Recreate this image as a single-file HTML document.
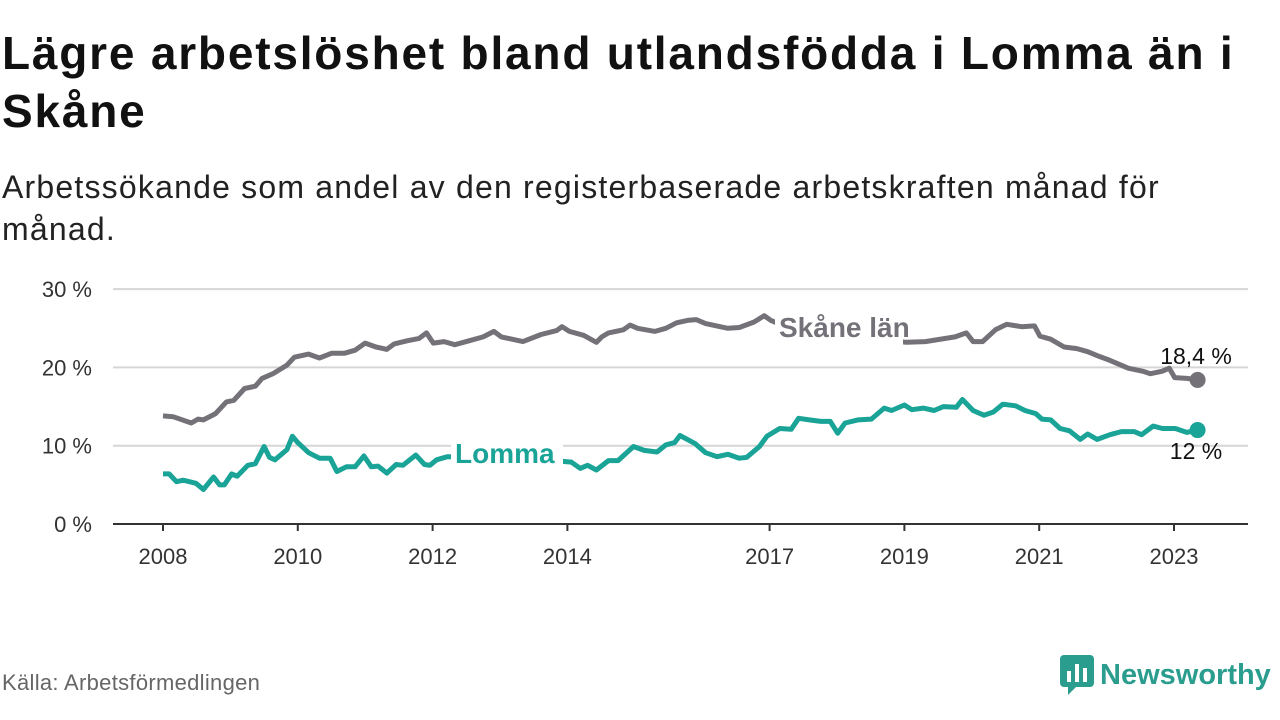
<!DOCTYPE html>
<html><head><meta charset="utf-8"><style>
body{margin:0;width:1280px;height:720px;background:#fff;overflow:hidden;font-family:"Liberation Sans",sans-serif;color:#111}
.t{position:absolute;left:2px;font-weight:bold;font-size:46px;letter-spacing:1.8px;line-height:58px;top:24px;width:1255px}
.s{position:absolute;left:2px;top:166px;font-size:32px;letter-spacing:1.2px;line-height:42px;width:1220px;color:#222}
.src{position:absolute;left:2px;top:670px;font-size:22px;letter-spacing:0.3px;color:#666}
.logo{position:absolute;left:1060px;top:655px;font-size:29px;font-weight:bold;color:#2a9d8f;display:flex;align-items:center}
</style></head><body>
<div class="t">Lägre arbetslöshet bland utlandsfödda i Lomma än i Skåne</div>
<div class="s">Arbetssökande som andel av den registerbaserade arbetskraften månad för månad.</div>
<svg id="chart" style="position:absolute;left:0;top:0" width="1280" height="720"></svg>
<div class="src">Källa: Arbetsförmedlingen</div>
<div class="logo"><svg width="34" height="40" viewBox="0 0 34 40" style="margin-right:6px"><rect x="0" y="0" width="34" height="32" rx="4" fill="#2a9d8f"/><polygon points="8,32 16,32 8,40" fill="#2a9d8f"/><rect x="7" y="16" width="4" height="11" fill="#fff"/><rect x="15" y="9" width="4" height="18" fill="#fff"/><rect x="23" y="13" width="4" height="14" fill="#fff"/></svg>Newsworthy</div>
<script>
const skaneX=[2008.0,2008.15,2008.42,2008.52,2008.6,2008.78,2008.94,2009.05,2009.21,2009.37,2009.47,2009.63,2009.84,2009.95,2010.16,2010.32,2010.5,2010.69,2010.85,2011.0,2011.16,2011.32,2011.43,2011.62,2011.8,2011.91,2012.01,2012.17,2012.33,2012.54,2012.75,2012.91,2013.02,2013.34,2013.61,2013.84,2013.92,2014.03,2014.24,2014.43,2014.51,2014.61,2014.83,2014.93,2015.04,2015.3,2015.46,2015.62,2015.78,2015.91,2016.05,2016.38,2016.55,2016.77,2016.92,2017.02,2017.3,2017.6,2018.0,2018.4,2018.7,2019.03,2019.31,2019.75,2019.92,2020.02,2020.16,2020.35,2020.52,2020.74,2020.93,2021.01,2021.17,2021.37,2021.56,2021.72,2021.89,2022.05,2022.32,2022.54,2022.65,2022.82,2022.93,2023.01,2023.19,2023.35];
const skaneY=[13.8,13.7,12.9,13.4,13.3,14.1,15.6,15.8,17.3,17.6,18.6,19.2,20.3,21.3,21.7,21.2,21.8,21.8,22.2,23.1,22.6,22.3,23.0,23.4,23.7,24.4,23.1,23.3,22.9,23.4,23.9,24.6,23.9,23.3,24.2,24.7,25.2,24.6,24.1,23.2,23.9,24.4,24.8,25.4,25.0,24.6,25.0,25.7,26.0,26.1,25.6,25.0,25.1,25.8,26.6,26.0,25.0,24.8,24.5,24.0,23.5,23.2,23.3,23.9,24.4,23.3,23.3,24.8,25.5,25.2,25.3,24.0,23.6,22.6,22.4,22.0,21.4,20.9,19.9,19.5,19.2,19.5,19.9,18.7,18.6,18.4];
const lommaX=[2008.0,2008.09,2008.2,2008.3,2008.49,2008.6,2008.75,2008.84,2008.91,2009.02,2009.1,2009.26,2009.37,2009.5,2009.58,2009.66,2009.84,2009.92,2010.0,2010.16,2010.32,2010.48,2010.58,2010.72,2010.85,2010.98,2011.09,2011.19,2011.32,2011.46,2011.56,2011.75,2011.88,2011.96,2012.06,2012.22,2012.6,2013.0,2013.5,2013.8,2014.06,2014.19,2014.3,2014.43,2014.61,2014.75,2014.98,2015.14,2015.33,2015.46,2015.59,2015.67,2015.89,2016.05,2016.22,2016.38,2016.55,2016.66,2016.85,2016.96,2017.15,2017.32,2017.43,2017.59,2017.76,2017.9,2018.01,2018.12,2018.31,2018.51,2018.7,2018.81,2019.0,2019.11,2019.28,2019.44,2019.58,2019.77,2019.86,2020.02,2020.18,2020.32,2020.46,2020.65,2020.79,2020.95,2021.04,2021.17,2021.31,2021.45,2021.61,2021.72,2021.86,2022.05,2022.22,2022.41,2022.52,2022.69,2022.83,2023.02,2023.19,2023.35];
const lommaY=[6.4,6.4,5.4,5.6,5.2,4.4,6.0,5.0,5.0,6.4,6.1,7.5,7.7,9.9,8.5,8.2,9.5,11.2,10.4,9.1,8.4,8.4,6.7,7.3,7.3,8.7,7.3,7.4,6.5,7.6,7.5,8.8,7.6,7.5,8.2,8.6,8.6,8.5,8.3,8.1,7.9,7.1,7.5,6.9,8.1,8.1,9.9,9.4,9.2,10.1,10.4,11.3,10.3,9.1,8.6,8.9,8.4,8.5,9.9,11.2,12.2,12.1,13.5,13.3,13.1,13.1,11.6,12.9,13.3,13.4,14.8,14.5,15.2,14.6,14.8,14.5,15.0,14.9,15.9,14.5,13.9,14.3,15.3,15.1,14.5,14.1,13.4,13.3,12.2,11.9,10.8,11.5,10.8,11.4,11.8,11.8,11.4,12.5,12.2,12.2,11.7,12.0];
const yTicks=[0,10,20,30];
const yTickLabels=["0 %","10 %","20 %","30 %"];
const xTicks=[2008,2010,2012,2014,2017,2019,2021,2023];
const xTickLabels=["2008","2010","2012","2014","2017","2019","2021","2023"];
const svg=document.getElementById('chart');
const NS='http://www.w3.org/2000/svg';
const xS=v=>163+(v-2008)*67.4;
const yS=v=>524-v*7.83;
function mk(tag,attrs,parent){const e=document.createElementNS(NS,tag);for(const k in attrs)e.setAttribute(k,attrs[k]);(parent||svg).appendChild(e);return e;}
yTicks.forEach((t,i)=>{
  if(t>0){const g=mk('line',{x1:113,x2:1248,y1:yS(t),y2:yS(t),stroke:'#d6d6d6','stroke-width':2});
  
  }
  const l=mk('text',{x:92,y:yS(t)+8,'text-anchor':'end','font-size':22,fill:'#333','font-family':'Liberation Sans, sans-serif'});
  l.textContent=yTickLabels[i];
  
  
});
const ax=mk('line',{x1:113,x2:1248,y1:524,y2:524,stroke:'#333','stroke-width':2});


xTicks.forEach((t,i)=>{
  const tk=mk('line',{x1:xS(t),x2:xS(t),y1:524,y2:531,stroke:'#333','stroke-width':2});
  
  
  const l=mk('text',{x:xS(t),y:564,'text-anchor':'middle','font-size':22,fill:'#333','font-family':'Liberation Sans, sans-serif'});
  l.textContent=xTickLabels[i];
  
  
});
function line(xs,ys,color,name){
  const d=xs.map((x,i)=>(i?'L':'M')+xS(x).toFixed(1)+','+yS(ys[i]).toFixed(1)).join('');
  const p=mk('path',{d:d,fill:'none',stroke:color,'stroke-width':5,'stroke-linejoin':'round'});
  
  
  const n=xs.length-1;
  const c=mk('circle',{cx:xS(xs[n]),cy:yS(ys[n]),r:8,fill:color});
  
  
}
line(skaneX,skaneY,'#747278','skane');
line(lommaX,lommaY,'#1aa397','lomma');
function lab(x,y,w,txt,color,name){
  const r=mk('rect',{x:x-4,y:y-27,width:w,height:36,fill:'#fff'});
  
  
  const t=mk('text',{x:x,y:y,'font-size':28,'font-weight':'bold',fill:color,'font-family':'Liberation Sans, sans-serif'});
  t.textContent=txt;
  
  
}
lab(779,337,128,'Skåne län','#747278','skane');
lab(455,463,112,'Lomma','#1aa397','lomma');
const v1=mk('text',{x:1196,y:364,'text-anchor':'middle','font-size':23,fill:'#111','font-family':'Liberation Sans, sans-serif'});
v1.textContent='18,4 %';


const v2=mk('text',{x:1196,y:459,'text-anchor':'middle','font-size':23,fill:'#111','font-family':'Liberation Sans, sans-serif'});
v2.textContent='12 %';


</script>
</body></html>
